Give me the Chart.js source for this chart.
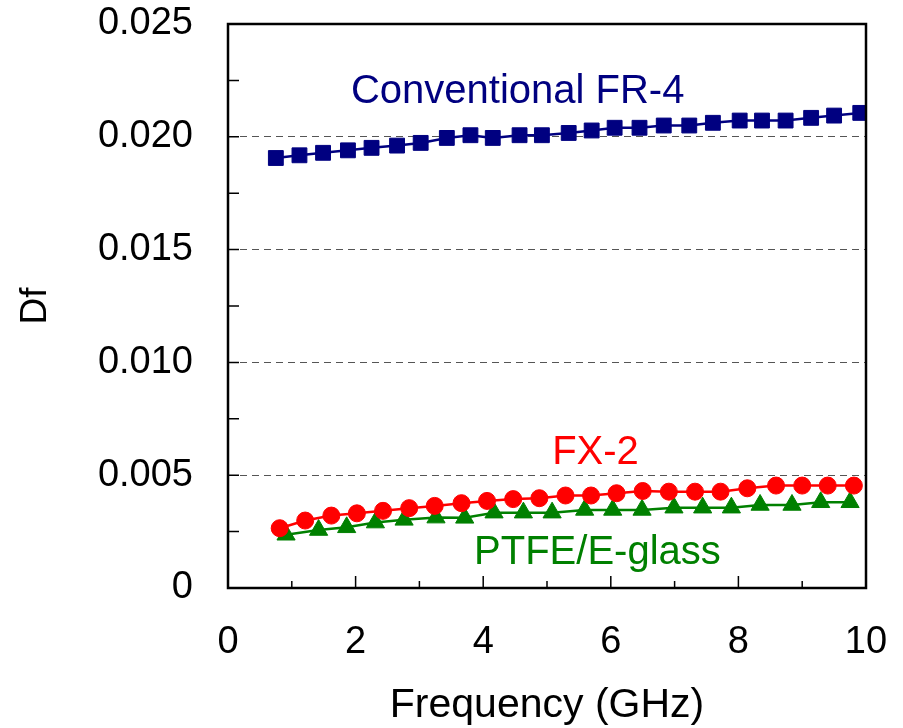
<!DOCTYPE html>
<html>
<head>
<meta charset="utf-8">
<script src="https://cdn.jsdelivr.net/npm/chart.js@4"></script>
<style>
  body { margin: 0; background: #fff; }
</style>
</head>
<body>
<canvas id="graficoDf" width="903" height="728"></canvas>
<script>
// valores (Df x frequencia)
const freqFR4 = [0.75, 1.12, 1.49, 1.88, 2.25, 2.65, 3.02, 3.43, 3.80, 4.15, 4.57, 4.92, 5.34, 5.70, 6.06, 6.45, 6.83, 7.23, 7.60, 8.02, 8.37, 8.74, 9.14, 9.50, 9.91]
const dfFR4 = [0.01906, 0.01918, 0.01929, 0.01940, 0.01951, 0.01961, 0.01973, 0.01995, 0.02007, 0.01995, 0.02007, 0.02007, 0.02017, 0.02028, 0.02040, 0.02040, 0.02050, 0.02050, 0.02062, 0.02072, 0.02072, 0.02072, 0.02084, 0.02094, 0.02106]

const freqFX2 = [0.81, 1.21, 1.62, 2.02, 2.43, 2.84, 3.24, 3.66, 4.06, 4.47, 4.88, 5.29, 5.69, 6.09, 6.50, 6.91, 7.32, 7.72, 8.14, 8.59, 9.00, 9.40, 9.81]
const dfFX2 = [0.00265, 0.00299, 0.00321, 0.00331, 0.00342, 0.00354, 0.00364, 0.00376, 0.00386, 0.00394, 0.00398, 0.00410, 0.00410, 0.00420, 0.00430, 0.00427, 0.00427, 0.00427, 0.00442, 0.00454, 0.00454, 0.00454, 0.00454]

const freqPTFE = [0.91, 1.42, 1.86, 2.31, 2.76, 3.26, 3.71, 4.17, 4.63, 5.08, 5.59, 6.03, 6.49, 6.99, 7.44, 7.89, 8.34, 8.84, 9.29, 9.75]
const dfPTFE = [0.00236, 0.00257, 0.00269, 0.00290, 0.00302, 0.00312, 0.00311, 0.00334, 0.00334, 0.00334, 0.00346, 0.00346, 0.00346, 0.00356, 0.00356, 0.00356, 0.00368, 0.00368, 0.00380, 0.00380]

// rotulos dentro do grafico (posicao em coordenadas dos eixos)
const rotulos = [
  { texto: 'Conventional FR-4', x: 4.54, y: 0.0220, cor: '#000080' },
  { texto: 'FX-2', x: 5.76, y: 0.0060, cor: '#ff0000' },
  { texto: 'PTFE/E-glass', x: 5.79, y: 0.00155, cor: '#008000' }
]

const ticksMaioresX = [2, 4, 6, 8]
const ticksMenoresX = [1, 3, 5, 7, 9]
const ticksY = [0.0025, 0.005, 0.0075, 0.01, 0.0125, 0.015, 0.0175, 0.02, 0.0225]

const fonte = '"Liberation Sans", Arial, sans-serif'

function pontos(xs, ys) {
  return xs.map((x, i) => ({ x: x, y: ys[i] }))
}

function semPadding(s) {
  s.paddingTop = 0
  s.paddingBottom = 0
  s.paddingLeft = 0
  s.paddingRight = 0
}

// moldura, tracinhos para dentro e rotulos
const molduraPlugin = {
  id: 'moldura',
  afterDraw(chart) {
    const { ctx, chartArea: a, scales: { x, y } } = chart
    ctx.save()
    ctx.strokeStyle = '#000'
    ctx.lineWidth = 1.5
    ctx.beginPath()
    ticksMaioresX.forEach(v => {
      const px = x.getPixelForValue(v)
      ctx.moveTo(px, a.bottom)
      ctx.lineTo(px, a.bottom - 12)
    })
    ticksMenoresX.forEach(v => {
      const px = x.getPixelForValue(v)
      ctx.moveTo(px, a.bottom)
      ctx.lineTo(px, a.bottom - 7)
    })
    ticksY.forEach(v => {
      const py = y.getPixelForValue(v)
      ctx.moveTo(a.left, py)
      ctx.lineTo(a.left + 11, py)
    })
    ctx.stroke()

    ctx.lineWidth = 2.5
    ctx.strokeRect(a.left, a.top, a.right - a.left, a.bottom - a.top)

    ctx.font = '40px ' + fonte
    ctx.textAlign = 'center'
    ctx.textBaseline = 'middle'
    rotulos.forEach(r => {
      ctx.fillStyle = r.cor
      ctx.fillText(r.texto, x.getPixelForValue(r.x), y.getPixelForValue(r.y))
    })
    ctx.restore()
  }
}

const ctx = document.getElementById('graficoDf')

new Chart(ctx, {
  type: 'line',
  data: {
    datasets: [{
      label: 'Conventional FR-4',
      data: pontos(freqFR4, dfFR4),
      borderColor: '#000080',
      backgroundColor: '#000080',
      borderWidth: 2.5,
      pointStyle: 'rect',
      pointRadius: 10.5,
      pointBorderWidth: 1
    }, {
      label: 'FX-2',
      data: pontos(freqFX2, dfFX2),
      borderColor: '#ff0000',
      backgroundColor: '#ff0000',
      borderWidth: 2.5,
      pointStyle: 'circle',
      pointRadius: 8.5,
      pointBorderWidth: 1
    }, {
      label: 'PTFE/E-glass',
      data: pontos(freqPTFE, dfPTFE),
      borderColor: '#008000',
      backgroundColor: '#008000',
      borderWidth: 2.5,
      pointStyle: 'triangle',
      pointRadius: 10.5,
      pointBorderWidth: 1
    }]
  },
  options: {
    responsive: false,
    animation: false,
    layout: {
      padding: { top: 24, right: 37, left: 0, bottom: 0 }
    },
    plugins: {
      legend: { display: false },
      tooltip: { enabled: false }
    },
    scales: {
      x: {
        type: 'linear',
        min: 0,
        max: 10,
        ticks: {
          stepSize: 2,
          padding: 32,
          color: '#000',
          font: { family: fonte, size: 38 }
        },
        grid: { display: false, drawTicks: false },
        border: { display: false },
        title: {
          display: true,
          text: 'Frequency (GHz)',
          color: '#000',
          font: { family: fonte, size: 41, lineHeight: 1 },
          padding: { top: 0, bottom: 2 }
        },
        afterFit: s => {
          s.height = 140
          semPadding(s)
        }
      },
      y: {
        type: 'linear',
        min: 0,
        max: 0.025,
        ticks: {
          stepSize: 0.005,
          padding: 35,
          color: '#000',
          font: { family: fonte, size: 38 },
          callback: v => v === 0 ? '0' : v.toFixed(3)
        },
        grid: {
          drawTicks: false,
          lineWidth: 1,
          color: c => (c.tick && c.tick.value > 0.0001 && c.tick.value < 0.0249) ? '#555' : 'rgba(0,0,0,0)'
        },
        border: { display: false, dash: [7, 5] },
        title: {
          display: true,
          text: 'Df',
          color: '#000',
          font: { family: fonte, size: 37, lineHeight: 1 },
          padding: { top: 17, bottom: 0 }
        },
        afterFit: s => {
          s.width = 228
          semPadding(s)
        }
      }
    }
  },
  plugins: [molduraPlugin]
});
</script>
</body>
</html>
